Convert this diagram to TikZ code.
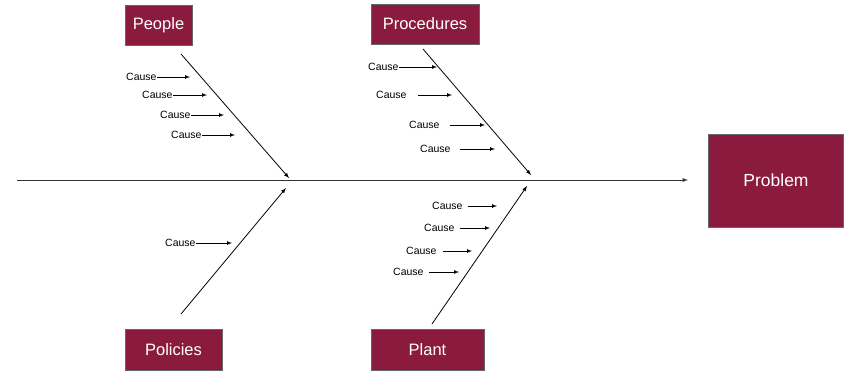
\documentclass[tikz,border=0pt]{standalone}
\usepackage{fontspec}
\setmainfont{Liberation Sans}
\usetikzlibrary{arrows}
\definecolor{maroon}{RGB}{139,27,62}

\begin{document}
\begin{tikzpicture}[x=1pt,y=-1pt,
  bone/.style={line width=0.8pt,-latex},
  box/.style={draw=black!60,fill=maroon,text=white,font=\fontsize{16.5}{18}\selectfont,inner sep=0pt},
  cause/.style={anchor=west,inner sep=0pt,font=\fontsize{10.5}{12}\selectfont}]
\useasboundingbox (0,0) rectangle (844,370);

% category boxes
\node[box,minimum width=67,minimum height=40] (people) at (158.5,25) {People};
\node[box,minimum width=108,minimum height=40] (proc) at (425,24) {Procedures};
\node[box,minimum width=97,minimum height=41] (policies) at (173.5,349.5) {Policies};
\node[box,minimum width=113,minimum height=41] (plant) at (427.5,349.5) {Plant};
\node[box,minimum width=135,minimum height=93,font=\fontsize{17.5}{19}\selectfont] (problem) at (776,180.5) {Problem};

% spine
\coordinate (tail) at (17,180);
\coordinate (head) at (688,180);
\draw[line width=0.9pt,draw=black!80,-latex] (tail) -- (head);

% bones
\coordinate (p0) at (181,54);    \coordinate (p1) at (289,178);
\coordinate (r0) at (423,49);    \coordinate (r1) at (531,175);
\coordinate (l0) at (181,314);   \coordinate (l1) at (286,188);
\coordinate (n0) at (432,324);   \coordinate (n1) at (527,186);
\draw[bone] (p0) -- (p1);
\draw[bone] (r0) -- (r1);
\draw[bone] (l0) -- (l1);
\draw[bone] (n0) -- (n1);

% causes
\foreach \n/\x/\y/\g/\e in {a/126/77/0/190,b/142/95/0/207,c/160/115/0/224,d/171/135/0/235,
  e/368/67/0/437,f/376/95/11/452,g/409/125/10/485,h/420/149/9/495,
  i/165/243/0/232,
  j/432/206/5/497,k/424/228/5/490,l/406/251/6/472,m/393/272/5/459}
{
\node[cause] (c\n) at (\x,\y) {Cause};
\coordinate (t\n) at (\e,\y);
\draw[line width=0.7pt,-latex] ([xshift=\g pt]c\n.east) -- (t\n);
}
\end{tikzpicture}
\end{document}
